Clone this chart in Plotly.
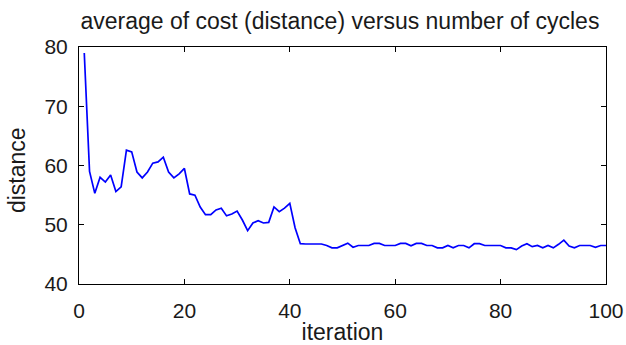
import plotly.graph_objects as go

iterations = list(range(1, 101))
distance = [
    79.0, 59.0, 55.3, 58.0, 57.2, 58.4, 55.6, 56.4, 62.6, 62.3,
    58.9, 57.9, 58.9, 60.4, 60.6, 61.4, 58.9, 57.9, 58.6, 59.5,
    55.2, 55.0, 53.0, 51.7, 51.7, 52.5, 52.8, 51.5, 51.8, 52.3,
    50.8, 49.0, 50.3, 50.7, 50.3, 50.4, 53.0, 52.2, 52.8, 53.6,
    49.5, 46.8, 46.75, 46.75, 46.75, 46.75, 46.5, 46.1, 46.1, 46.5,
    46.9, 46.2, 46.5, 46.5, 46.5, 46.85, 46.85, 46.5, 46.5, 46.5,
    46.85, 46.85, 46.45, 46.85, 46.85, 46.5, 46.5, 46.1, 46.1, 46.5,
    46.1, 46.5, 46.5, 46.1, 46.8, 46.8, 46.5, 46.5, 46.5, 46.5,
    46.1, 46.1, 45.8, 46.4, 46.8, 46.3, 46.5, 46.1, 46.5, 46.1,
    46.7, 47.4, 46.4, 46.1, 46.5, 46.5, 46.5, 46.2, 46.5, 46.5,
]
x_ticks = [0, 20, 40, 60, 80, 100]
y_ticks = [40, 50, 60, 70, 80]

fig = go.Figure()
fig.add_trace(go.Scatter(x=iterations, y=distance, mode="lines",
                         line=dict(color="#0000ff", width=1.7),
                         showlegend=False, hoverinfo="skip"))

font = "Arial, Liberation Sans, sans-serif"
axis_common = dict(showgrid=False, zeroline=False, showline=True,
                   linecolor="black", linewidth=1, mirror="ticks",
                   ticks="inside", ticklen=5, tickcolor="black",
                   automargin=False,
                   tickfont=dict(family=font, size=21, color="#1a1a1a"))

fig.update_layout(
    width=626, height=345,
    margin=dict(l=79, r=20, t=47, b=61),
    paper_bgcolor="white", plot_bgcolor="white",
    title=dict(text="average of cost (distance) versus number of cycles",
               x=0.543, xanchor="center", y=0.94, yanchor="middle",
               font=dict(family=font, size=23, color="#1a1a1a")),
    xaxis=dict(range=[0, 100], tickvals=x_ticks, ticklabelstandoff=8,
               title=dict(text="iteration", standoff=10,
                          font=dict(family=font, size=23, color="#1a1a1a")),
               **axis_common),
    yaxis=dict(range=[40, 80], tickvals=y_ticks, ticklabelstandoff=6,
               **axis_common),
    annotations=[dict(text="distance", textangle=-90, showarrow=False,
                      xref="paper", yref="paper", x=-0.1186, y=0.483,
                      xanchor="center", yanchor="middle",
                      font=dict(family=font, size=23, color="#1a1a1a"))],
)

fig.write_html("out.html")
